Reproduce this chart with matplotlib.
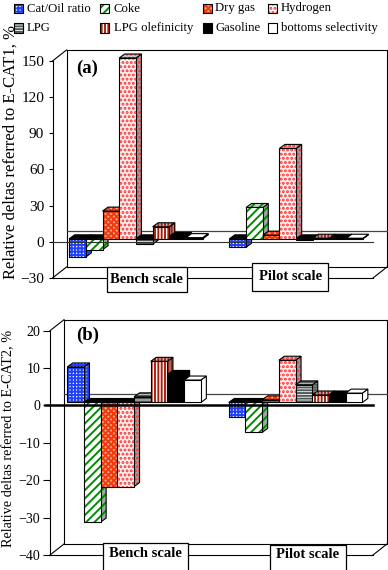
import matplotlib
matplotlib.use('Agg')
import matplotlib.pyplot as plt
from matplotlib.patches import Polygon, Rectangle

plt.rcParams['font.family'] = ['Liberation Serif', 'DejaVu Serif']
plt.rcParams['hatch.linewidth'] = 1.4

# ---------------- data ----------------
categories = ['Bench scale', 'Pilot scale']
series = ['Cat/Oil ratio', 'Coke', 'Dry gas', 'Hydrogen', 'LPG',
          'LPG olefinicity', 'Gasoline', 'bottoms selectivity']
vals_a_bench = [-15, -9, 23, 150, -4.5, 10, 2, 1]
vals_a_pilot = [-7, 26, 3, 75, -1, 0.5, 0.5, 0.5]
vals_b_bench = [9.5, -32, -22.5, -22.5, 1.5, 11, 7.5, 6]
vals_b_pilot = [-4, -8, 0.7, 11.3, 4.7, 2, 2, 2.5]
yticks_a = [-30, 0, 30, 60, 90, 120, 150]
yticks_b = [-40, -30, -20, -10, 0, 10, 20]
ylabel_a = 'Relative deltas referred to E-CAT1, %'
ylabel_b = 'Relative deltas referred to E-CAT2, %'

# ---------------- styles ----------------
styles = {
    'Cat/Oil ratio': dict(fc='white', hatch='+++++', hc='#2040ff', side='#8fa0c8', top='#c8d0f0'),
    'Coke': dict(fc='white', hatch='////', hc='#008c00', side='#9aa8a0', top='#c8d8c8'),
    'Dry gas': dict(fc='#ffa888', hatch='xxxxxx', hc='#f03a10', side='#c89080', top='#e8b0a0'),
    'Hydrogen': dict(fc='#fff0f0', hatch='....', hc='#ff3030', side='#98a09c', top='#c0c8c4'),
    'LPG': dict(fc='white', hatch='------', hc='#505a58', side='#98a4a0', top='#c8d0cc'),
    'LPG olefinicity': dict(fc='white', hatch='|||||', hc='#a82010', side='#a08880', top='#c8b8b0'),
    'Gasoline': dict(fc='black', hatch=None, hc='black', side='black', top='black'),
    'bottoms selectivity': dict(fc='white', hatch=None, hc='white', side='white', top='white'),
}

FW, FH = 388, 570
fig = plt.figure(figsize=(FW / 100, FH / 100), dpi=100)


def fig_rect(x0, y0, x1, y1):
    return [x0 / FW, 1 - y1 / FH, (x1 - x0) / FW, (y1 - y0) / FH]


def face(ax, pts, fc, hatch, hc, z):
    ax.add_patch(Polygon(pts, closed=True, facecolor=fc, hatch=hatch,
                         edgecolor=hc, lw=0, clip_on=False, zorder=z))
    ax.add_patch(Polygon(pts, closed=True, fill=False, edgecolor='black',
                         lw=0.8, clip_on=False, zorder=z + 0.01))


def panel(rect_px, ylim, yticks, groups, tick_len, tick_pad, tick_fs,
          zero_lw, zero_x0_px, zero_color):
    x0p, y0p, x1p, y1p = rect_px
    ax = fig.add_axes(fig_rect(*rect_px))
    ymin, ymax = ylim
    ax.set_xlim(0, 2)
    ax.set_ylim(ymin, ymax)
    W = x1p - x0p
    H = y1p - y0p
    xu = W / 2.0
    yu = H / (ymax - ymin)

    def d(px, py):
        return px / xu, py / yu

    for s in ['top', 'right', 'bottom']:
        ax.spines[s].set_visible(False)
    ax.spines['left'].set_linewidth(0.8)
    ax.set_xticks([])
    ax.set_yticks(yticks)
    ax.tick_params(axis='y', length=tick_len, width=0.8, pad=tick_pad,
                   labelsize=tick_fs)
    ax.patch.set_visible(False)

    Dx, Dy = d(14, 11)
    lk = dict(color='black', lw=0.8, clip_on=False, zorder=1)
    ax.plot([0, 2], [ymin, ymin], **lk)
    ax.plot([Dx, 2 + Dx], [ymin + Dy, ymin + Dy], **lk)
    ax.plot([0, Dx], [ymin, ymin + Dy], **lk)
    ax.plot([2, 2 + Dx], [ymin, ymin + Dy], **lk)
    ax.plot([0, Dx], [ymax, ymax + Dy], **lk)
    ax.plot([Dx, 2 + Dx], [ymax + Dy, ymax + Dy], **lk)
    ax.plot([Dx, Dx], [ymin + Dy, ymax + Dy], **lk)
    ax.plot([2 + Dx, 2 + Dx], [ymin + Dy, ymax + Dy], **lk)
    ax.plot([Dx, 2 + Dx], [Dy, Dy], color='#444444', lw=0.9,
            clip_on=False, zorder=1)

    Fx, Fy = d(3.3, 3)
    Bx, By = d(5.5, 4)
    w = 16.7 / xu
    z = 2
    for i, vals in enumerate(groups):
        for j, (name, v) in enumerate(zip(series, vals)):
            st = styles[name]
            xl = i + 0.5 + (j - 4) * w + Fx
            xr = xl + w
            lo = Fy + min(v, 0)
            hi = Fy + max(v, 0)
            face(ax, [(xr, lo), (xr, hi), (xr + Bx, hi + By), (xr + Bx, lo + By)],
                 st['side'], st['hatch'], st['hc'], z)
            topc = 'black' if v < 0 else st['top']
            face(ax, [(xl, hi), (xr, hi), (xr + Bx, hi + By), (xl + Bx, hi + By)],
                 topc, None if v < 0 else st['hatch'], st['hc'], z + 0.1)
            face(ax, [(xl, lo), (xr, lo), (xr, hi), (xl, hi)],
                 st['fc'], st['hatch'], st['hc'], z + 0.2)
            z += 0.5
    zx0 = -zero_x0_px / xu
    ax.plot([zx0, 2], [0, 0], color=zero_color, lw=zero_lw, clip_on=False,
            zorder=50)
    return ax


ax_a = panel((52.5, 61, 373, 278), (-30, 150), yticks_a,
             [vals_a_bench, vals_a_pilot], 3, 3, 11, 0.8, 0, '#333333')
ax_b = panel((50, 330.7, 373, 555), (-40, 20), yticks_b,
             [vals_b_bench, vals_b_pilot], 5, 2, 10, 1.8, 5, 'black')


def cat_box(x0, y0, x1, y1, text, ty):
    r = Rectangle((x0 / FW, 1 - y1 / FH), (x1 - x0) / FW, (y1 - y0) / FH,
                  transform=fig.transFigure, facecolor='white',
                  edgecolor='black', lw=0.9, zorder=60)
    fig.add_artist(r)
    fig.text((x0 + x1) / 2 / FW, 1 - ty / FH, text, ha='center', va='center',
             fontsize=10.5, fontweight='bold', zorder=61)


cat_box(106.7, 266.7, 186.7, 292, categories[0], 279.5)
cat_box(252.3, 262.7, 328.3, 290.5, categories[1], 277)
cat_box(103.3, 543.3, 188.3, 575, categories[0], 553.5)
cat_box(270, 545, 346, 575, categories[1], 555)

fig.text(87 / FW, 1 - 68 / FH, '(a)', ha='center', va='center',
         fontsize=13.5, fontweight='bold')
fig.text(88 / FW, 1 - 335 / FH, '(b)', ha='center', va='center',
         fontsize=13.5, fontweight='bold')

fig.text(11 / FW, 1 - 152 / FH, ylabel_a, rotation=90, ha='center',
         va='center', fontsize=12)
fig.text(9 / FW, 1 - 438 / FH, ylabel_b, rotation=90, ha='center',
         va='center', fontsize=10.3)

# ---------------- legend ----------------
col_box_x = [14, 100, 203, 268]
col_txt_x = [27, 114, 215, 281]
row_y = [8.5, 28]
for k, name in enumerate(series):
    r, c = divmod(k, 4)
    st = styles[name]
    bx = col_box_x[c]
    by = row_y[r]
    s = 9
    rect = [bx / FW, 1 - (by + s / 2) / FH, s / FW, s / FH]
    fig.add_artist(Rectangle((rect[0], rect[1]), rect[2], rect[3],
                             transform=fig.transFigure, facecolor=st['fc'],
                             hatch=st['hatch'], edgecolor=st['hc'], lw=0))
    fig.add_artist(Rectangle((rect[0], rect[1]), rect[2], rect[3],
                             transform=fig.transFigure, fill=False,
                             edgecolor='black', lw=0.8))
    fig.text(col_txt_x[c] / FW, 1 - by / FH, name, ha='left', va='center',
             fontsize=9.2)

fig.savefig('out.png', dpi=100)
